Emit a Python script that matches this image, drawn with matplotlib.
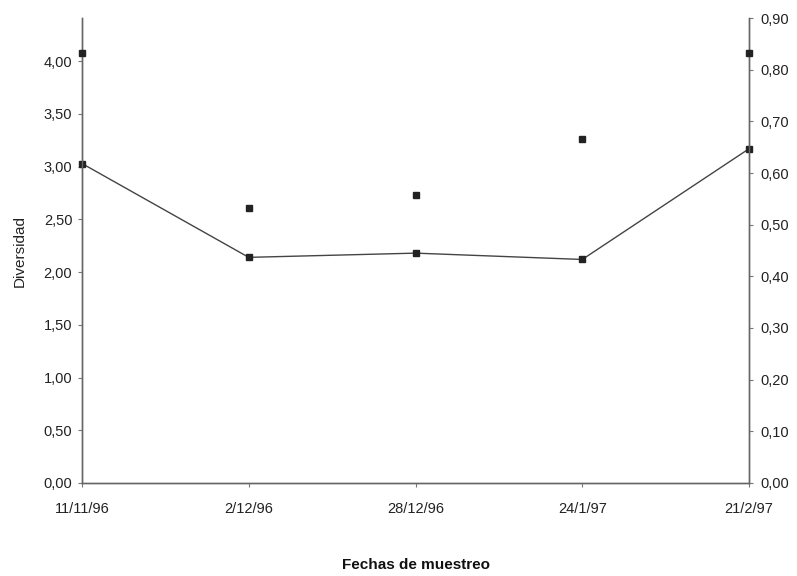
import numpy as np
import matplotlib.pyplot as plt

fechas = ['11/11/96', '2/12/96', '28/12/96', '24/1/97', '21/2/97']
diversidad = [3.03, 2.14, 2.18, 2.12, 3.17]
equitatividad = [0.832, 0.532, 0.557, 0.666, 0.832]

left_ticks = np.arange(0, 4.01, 0.5)
right_ticks = np.arange(0, 0.91, 0.1)

def coma(v):
    return ('%.2f' % v).replace('.', ',')

plt.rcParams['font.family'] = ['Liberation Sans', 'DejaVu Sans']
fig = plt.figure(figsize=(7.97, 5.76), dpi=100)
ax = fig.add_axes([0.1029, 0.1615, 0.8369, 0.8072])
ax2 = ax.twinx()

x = np.arange(len(fechas))
ax.plot(x, diversidad, color='#444444', lw=1.0, marker='s', ms=4,
        mfc='#222222', mec='#222222', clip_on=False, zorder=3)
ax2.plot(x, equitatividad, ls='none', marker='s', ms=4,
         mfc='#222222', mec='#222222', clip_on=False, zorder=3)

ax.set_xlim(0, 4)
ax.set_ylim(0, 4.41)
ax2.set_ylim(0, 0.9)
ax.set_yticks(left_ticks)
ax.set_yticklabels([coma(v) for v in left_ticks])
ax2.set_yticks(right_ticks)
ax2.set_yticklabels([coma(v) for v in right_ticks])
ax.set_xticks(x)
ax.set_xticklabels(fechas)

for a in (ax, ax2):
    a.spines['top'].set_visible(False)
    for s in ('left', 'right', 'bottom'):
        a.spines[s].set_color('#666666')
        a.spines[s].set_linewidth(1.0)
    a.tick_params(colors='#777777', labelcolor='#222222', labelsize=10.5,
                  length=3, width=0.8)
ax.tick_params(axis='x', pad=11)
ax.tick_params(axis='y', pad=4)
ax2.tick_params(axis='y', pad=5)

ax.set_ylabel('Diversidad', fontsize=11, color='#222222', labelpad=12)
ax.set_xlabel('Fechas de muestreo', fontsize=11, fontweight='bold',
              color='#111111', labelpad=30)

fig.savefig('out.png', dpi=100)
